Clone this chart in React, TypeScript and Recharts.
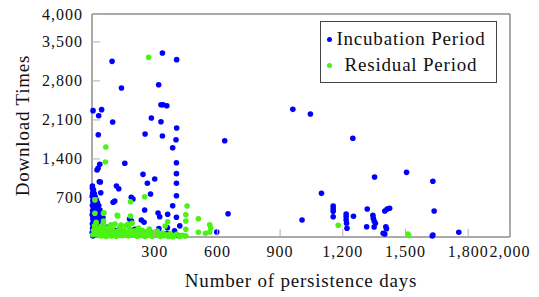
import React from 'react';
import { ScatterChart, Scatter, XAxis, YAxis, Legend } from 'recharts';

// [persistence days, download times]
const incubationPoints: [number, number][] = [
  // upper scatter
  [5, 2266], [32, 2176], [46, 2284], [96, 3151], [141, 2673], [99, 2063], [30, 1835],
  [284, 2135], [319, 2732], [337, 3300], [405, 3181], [330, 2373], [340, 2373], [358, 2355],
  [330, 2068], [405, 1955], [254, 1848], [337, 1812], [402, 1745], [635, 1727], [386, 1602],
  // middle band
  [37, 1304], [29, 1232], [24, 1202], [157, 1322], [404, 1333], [244, 1124], [300, 1040],
  [404, 1136], [265, 963], [404, 963], [2, 915], [35, 992], [40, 987], [117, 915], [128, 866],
  [42, 795], [280, 771], [404, 741], [196, 681], [188, 712], [109, 645], [101, 622], [386, 561],
  [252, 484], [316, 430], [324, 364], [404, 353], [651, 418], [236, 305], [249, 264], [180, 323],
  [189, 287], [361, 167], [597, 90], [362, 407],
  // long-lived samples
  [961, 2290], [1045, 2206], [1248, 1770], [1352, 1076], [1505, 1160], [1631, 999], [1098, 783],
  [1154, 556], [1154, 508], [1154, 461], [1154, 364], [1216, 413], [1216, 364], [1216, 305],
  [1218, 246], [1220, 156], [1251, 371], [1005, 305], [1317, 502], [1344, 389], [1346, 335],
  [1350, 287], [1356, 246], [1350, 179], [1314, 185], [1401, 466], [1412, 502], [1424, 515],
  [1406, 185], [1409, 149], [1393, 66], [1401, 54], [1637, 466], [1631, 36], [1628, 18], [1755, 84],
  // dense cluster near origin
  [2, 872], [3, 790], [1, 731], [4, 648], [2, 566], [3, 471], [1, 398], [4, 322], [2, 236], [3, 158], [1, 82], [4, 21],
  [7, 846], [6, 752], [8, 688], [6, 597], [7, 523], [9, 437], [6, 368], [8, 281], [7, 204], [9, 117], [6, 48],
  [11, 781], [12, 706], [10, 615], [13, 548], [11, 452], [12, 383], [10, 296], [13, 219], [11, 143], [12, 62],
  [15, 727], [17, 645], [16, 566], [14, 478], [17, 387], [15, 311], [16, 233], [14, 149], [17, 71],
  [21, 664], [20, 583], [22, 497], [19, 412], [21, 338], [23, 252], [20, 171], [22, 93],
  [26, 612], [27, 528], [25, 431], [28, 356], [26, 268], [27, 192], [25, 109], [28, 32],
  [32, 563], [33, 449], [31, 372], [34, 293], [32, 204], [33, 121],
  [38, 484], [39, 398], [37, 312], [40, 221], [38, 141],
  [45, 418], [46, 331], [44, 252], [47, 163], [52, 352], [53, 268],
  // hidden among residual points
  [75, 180], [110, 120], [150, 60], [205, 140], [230, 40], [280, 90], [320, 150], [360, 60],
  [395, 110], [410, 30], [420, 200],
];

const residualPoints: [number, number][] = [
  [271, 3223], [66, 1614], [64, 1345], [14, 664], [14, 425], [55, 425], [55, 287], [252, 723],
  [184, 633], [184, 377], [123, 377], [362, 274], [350, 197], [91, 221], [139, 215], [171, 228],
  [455, 556], [449, 400], [449, 287], [449, 138], [449, 18], [509, 328], [509, 84], [563, 221],
  [568, 161], [563, 90], [543, 66], [428, 23], [444, 23], [380, 18], [388, 0], [1178, 210],
  [1511, 54], [1515, 30], [57, 436], [121, 389],
  // bottom band
  [4, 40], [8, 120], [12, 200], [16, 60], [20, 262], [24, 150], [28, 30], [33, 92], [38, 181],
  [44, 20], [48, 118], [52, 224], [58, 71], [63, 160], [68, 10], [72, 112], [78, 41], [83, 190],
  [88, 88], [93, 19], [98, 142], [104, 63], [110, 233], [116, 11], [121, 101], [127, 39], [133, 172],
  [139, 81], [145, 22], [150, 121], [156, 52], [162, 203], [168, 90], [174, 18], [180, 151], [186, 62],
  [192, 248], [198, 31], [204, 109], [210, 58], [216, 12], [222, 161], [228, 79], [234, 28], [240, 122],
  [247, 49], [253, 9], [260, 92], [267, 33], [274, 141], [281, 61], [288, 12], [296, 82], [304, 29],
  [312, 108], [320, 52], [328, 11], [337, 71], [346, 22], [355, 41], [366, 9], [375, 62], [392, 21],
  [405, 48], [418, 10], [432, 31],
];

const seriesNames = ['Incubation Period', 'Residual Period'];
const seriesColors = ['#0000ff', '#4cf214'];
const xTicks = [300, 600, 900, 1200, 1500, 1800, 2000];
const yTicks = [700, 1400, 2100, 2800, 3500, 4000];

const font = "'Liberation Serif', 'DejaVu Serif', serif";
const fmt = (v: number) => v.toLocaleString('en-US');

const toData = (pts: [number, number][]) => pts.map(([days, downloads]) => ({ days, downloads }));

const Dot = (color: string) => (props: any) => (
  <circle cx={props.cx} cy={props.cy} r={2.8} fill={color} />
);

const BottomTick = ({ x, y, payload }: any) => (
  <g>
    <line x1={x} y1={y} x2={x} y2={y - 8} stroke="#b0b0b0" />
    <text x={x} y={y + 20} textAnchor="middle" fill="#111" fontFamily={font} fontSize={16} style={{ letterSpacing: 1 }}>
      {fmt(payload.value)}
    </text>
  </g>
);

const TopTick = ({ x, y }: any) => <line x1={x} y1={y} x2={x} y2={y + 8} stroke="#b0b0b0" />;

const LeftTick = ({ x, y, payload }: any) => (
  <g>
    <line x1={x} y1={y} x2={x + 8} y2={y} stroke="#b0b0b0" />
    <text x={x - 9} y={y + 5.5} textAnchor="end" fill="#111" fontFamily={font} fontSize={16} style={{ letterSpacing: 1 }}>
      {fmt(payload.value)}
    </text>
  </g>
);

const RightTick = ({ x, y }: any) => <line x1={x} y1={y} x2={x - 8} y2={y} stroke="#b0b0b0" />;

const renderLegend = () => (
  <div
    style={{
      width: 177,
      height: 62,
      boxSizing: 'border-box',
      border: '1px solid #444',
      background: '#fff',
      paddingTop: 4,
      fontFamily: font,
      fontSize: 19,
      letterSpacing: 0.8,
      color: '#111',
    }}
  >
    {seriesNames.map((name, i) => (
      <div key={name} style={{ display: 'flex', alignItems: 'center', height: 26 }}>
        <span
          style={{
            display: 'inline-block',
            width: 5,
            height: 5,
            borderRadius: '50%',
            background: seriesColors[i],
            marginLeft: 6,
          }}
        />
        <span style={{ flex: 1, textAlign: 'center', paddingRight: 6 }}>{name}</span>
      </div>
    ))}
  </div>
);

export default function App() {
  const incubation = toData(incubationPoints);
  const residual = toData(residualPoints);

  return (
    <div style={{ position: 'fixed', left: 0, top: 0, background: '#fff' }}>
      <ScatterChart width={539} height={297} margin={{ top: 0, right: 0, bottom: 0, left: 0 }}>
        <XAxis
          xAxisId={0}
          type="number"
          dataKey="days"
          domain={[0, 2000]}
          ticks={xTicks}
          interval={0}
          height={60}
          tickSize={0}
          tickMargin={0}
          tickLine={false}
          axisLine={{ stroke: '#555' }}
          tick={<BottomTick />}
          label={{
            content: ({ viewBox }: any) => (
              <text
                x={viewBox.x + viewBox.width / 2}
                y={viewBox.y + 50}
                textAnchor="middle"
                fill="#111"
                fontFamily={font}
                fontSize={19}
                style={{ letterSpacing: 0.8 }}
              >
                Number of persistence days
              </text>
            ),
          }}
        />
        <XAxis
          xAxisId="top"
          orientation="top"
          type="number"
          domain={[0, 2000]}
          ticks={xTicks}
          interval={0}
          height={14}
          tickSize={0}
          tickMargin={0}
          tickLine={false}
          axisLine={{ stroke: '#555' }}
          tick={<TopTick />}
        />
        <YAxis
          yAxisId={0}
          type="number"
          dataKey="downloads"
          domain={[0, 4000]}
          ticks={yTicks}
          interval={0}
          width={92}
          tickSize={0}
          tickMargin={0}
          tickLine={false}
          axisLine={{ stroke: '#555' }}
          tick={<LeftTick />}
          label={{
            content: ({ viewBox }: any) => {
              const cx = viewBox.x + 29;
              const cy = viewBox.y + viewBox.height / 2;
              return (
                <text
                  x={cx}
                  y={cy}
                  transform={`rotate(-90, ${cx}, ${cy})`}
                  textAnchor="middle"
                  fill="#111"
                  fontFamily={font}
                  fontSize={19}
                  style={{ letterSpacing: 0.8 }}
                >
                  Download Times
                </text>
              );
            },
          }}
        />
        <YAxis
          yAxisId="right"
          orientation="right"
          type="number"
          domain={[0, 4000]}
          ticks={yTicks}
          interval={0}
          width={29}
          tickSize={0}
          tickMargin={0}
          tickLine={false}
          axisLine={{ stroke: '#555' }}
          tick={<RightTick />}
        />
        <Legend
          layout="horizontal"
          align="center"
          verticalAlign="middle"
          content={renderLegend}
          wrapperStyle={{ position: 'absolute', left: 320, top: 21, width: 177, height: 62 }}
        />
        <Scatter
          name={seriesNames[0]}
          data={incubation}
          fill={seriesColors[0]}
          shape={Dot(seriesColors[0])}
          isAnimationActive={false}
        />
        <Scatter
          name={seriesNames[1]}
          data={residual}
          fill={seriesColors[1]}
          shape={Dot(seriesColors[1])}
          isAnimationActive={false}
        />
      </ScatterChart>
    </div>
  );
}
